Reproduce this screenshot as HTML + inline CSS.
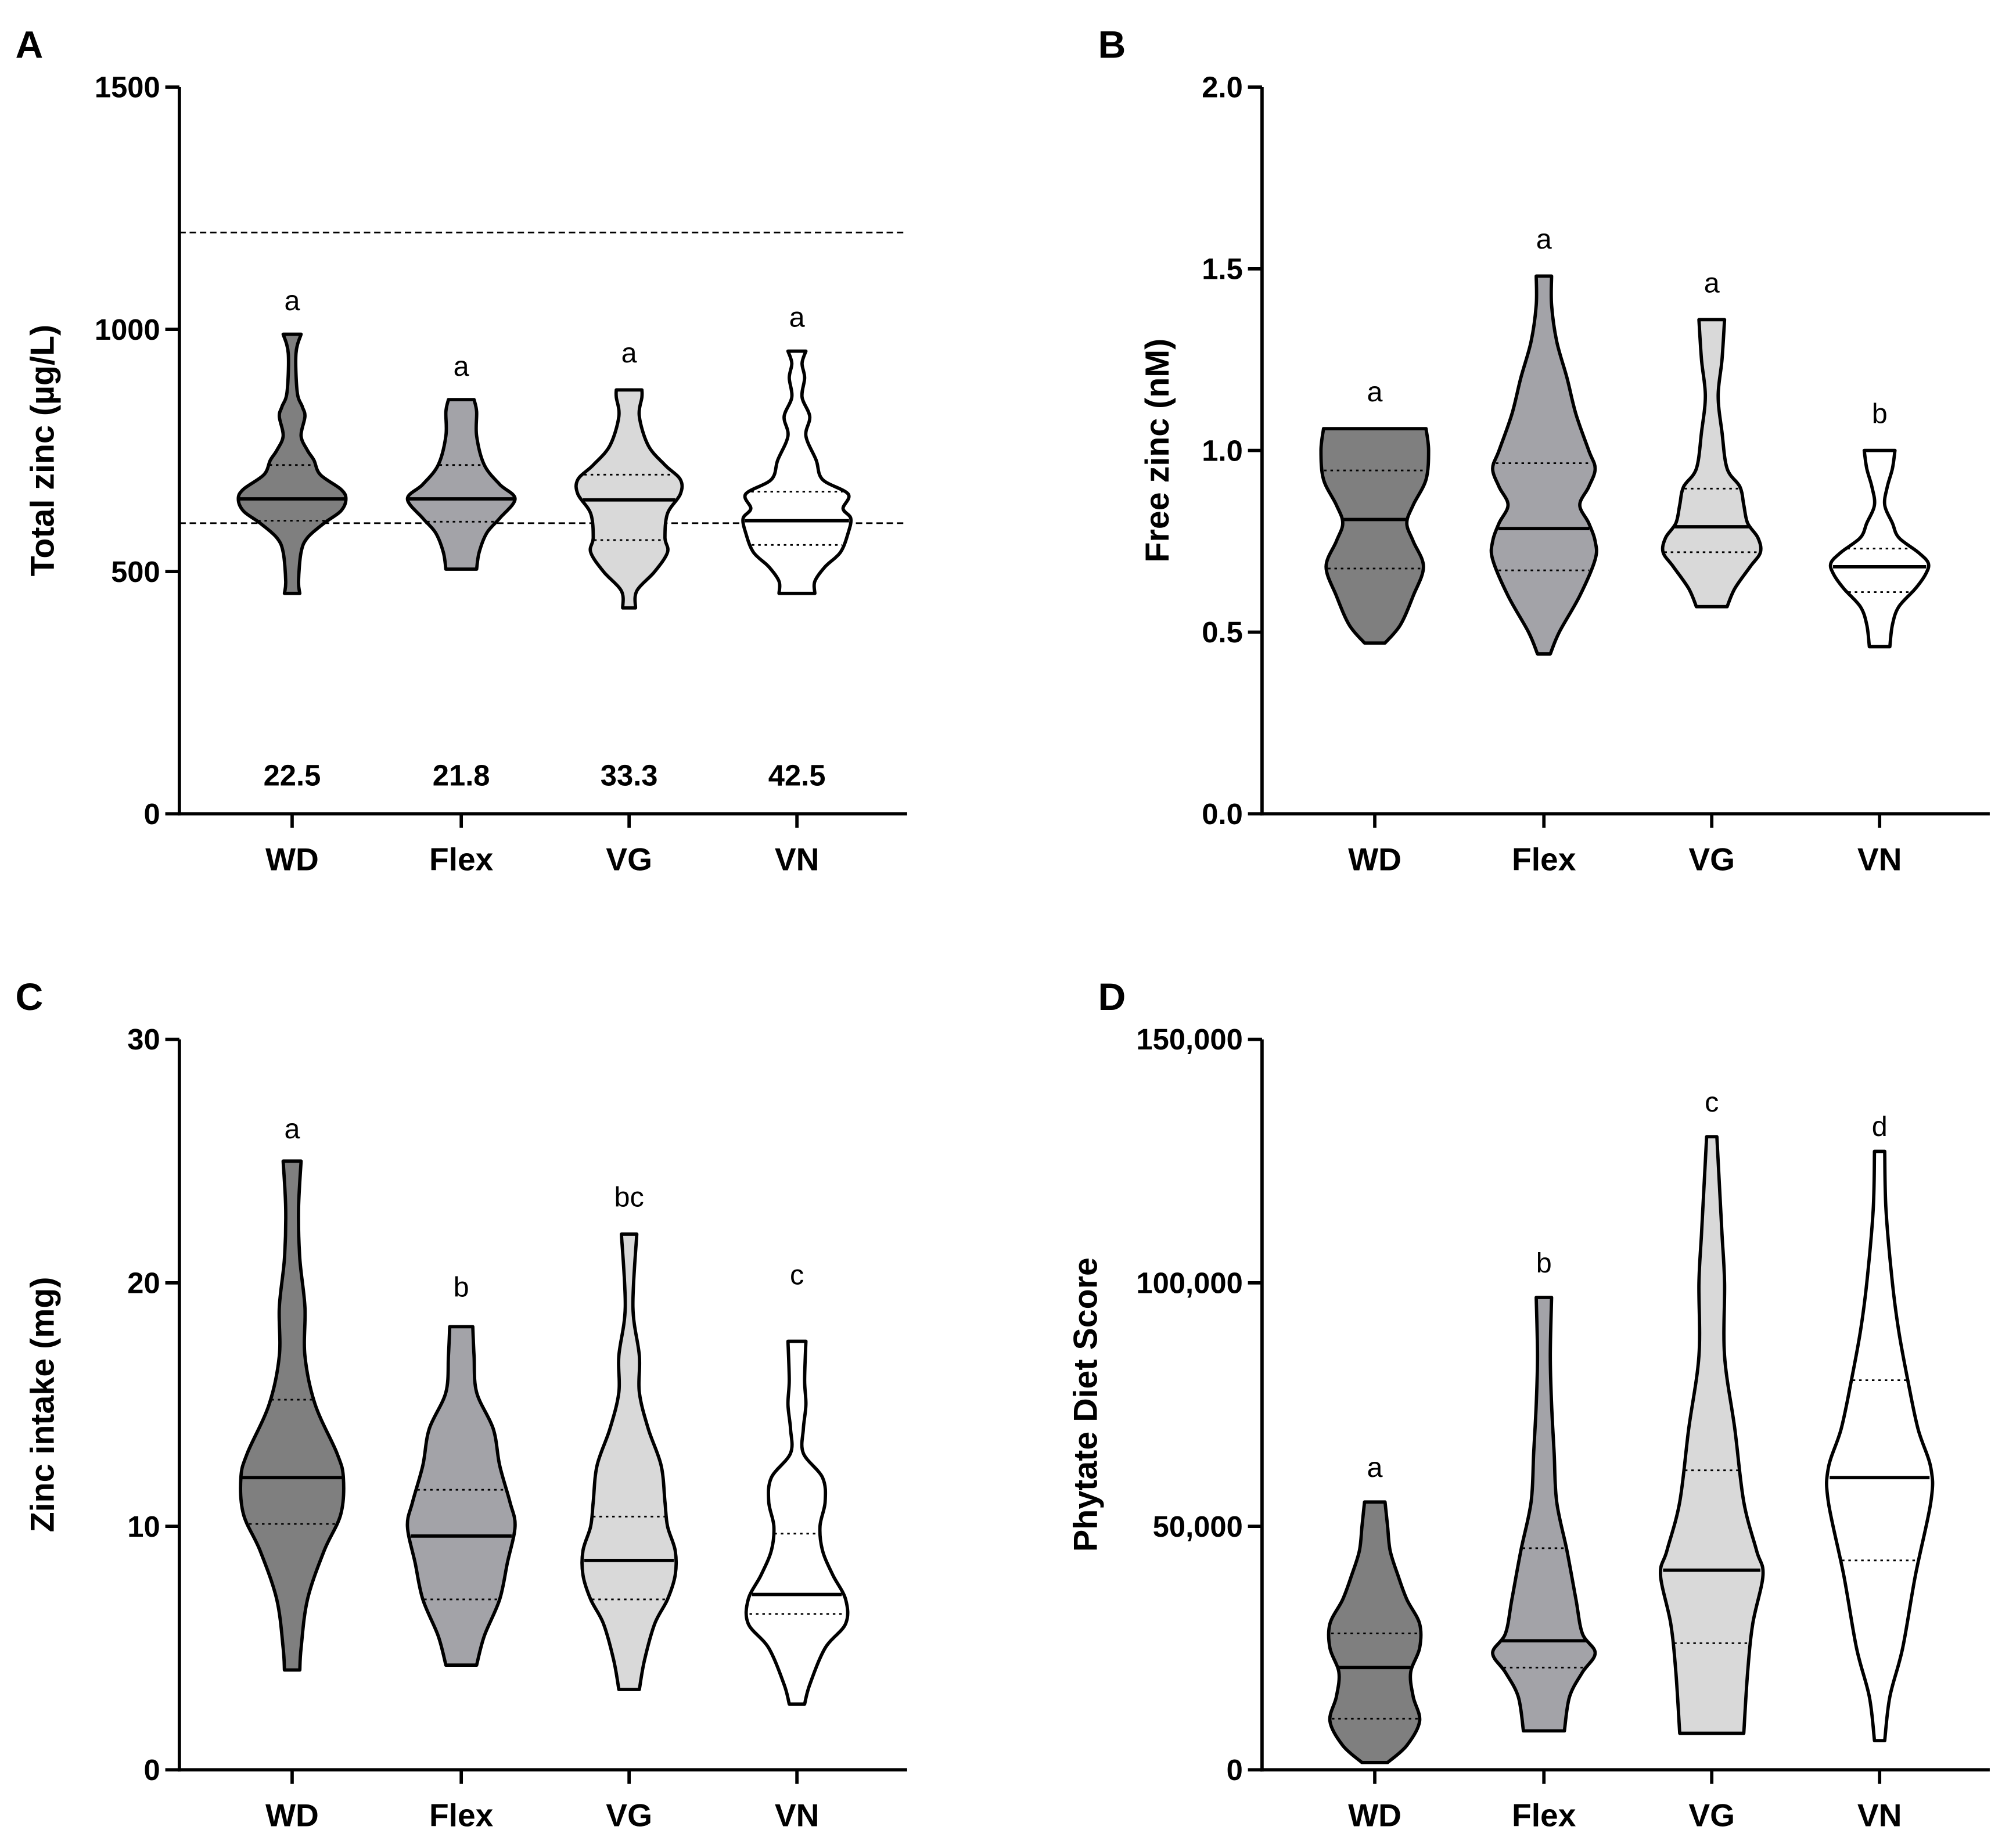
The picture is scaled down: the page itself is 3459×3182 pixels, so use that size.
<!DOCTYPE html>
<html><head><meta charset="utf-8"><style>
html,body{margin:0;padding:0;background:#fff}
svg{display:block}
text{font-family:"Liberation Sans",Arial,sans-serif}
</style></head><body>
<svg id="fig" width="3459" height="3182" viewBox="0 0 1568 1442" preserveAspectRatio="none" xmlns="http://www.w3.org/2000/svg"></svg>
<script>
const categories = ["WD","Flex","VG","VN"];
const fills = ["#7f7f7f","#a3a3a8","#d9d9d9","#ffffff"];
// Panel A: total zinc
const aProfiles = [
 [[455,6],[480,5],[540,7],[570,12],[600,25],[625,38],[650,42],[670,38],[700,22],[730,17],[750,12],[780,7],[820,10],[840,8],[870,4],[950,3],[990,7]],
 [[505,12],[540,14],[580,20],[610,30],[650,42],[680,30],[720,18],[780,12],[830,12],[855,10]],
 [[425,5],[460,6],[500,20],[540,30],[570,28],[620,30],[660,40],[690,40],[720,28],[760,15],[820,8],[860,10],[875,10]],
 [[455,14],[480,14],[510,22],[540,34],[580,40],[610,42],[630,36],[660,40],[690,20],[730,15],[780,7],[820,10],[860,4],[900,6],[930,4],[955,7]]
];
const aMedians = [650,650,648,605];
const aQ1 = [605,603,565,555];
const aQ3 = [720,720,700,665];
const aLetters = ["a","a","a","a"];
const aLetterPos = [1058,923,950,1024];
const aPercents = ["22.5","21.8","33.3","42.5"];
const aRefLines = [600,1200];
const aTicks = [0,500,1000,1500];
const aTickLabels = ["0","500","1000","1500"];
// Panel B: free zinc
const bProfiles = [
 [[0.47,8],[0.52,20],[0.6,30],[0.68,38],[0.75,30],[0.8,25],[0.85,30],[0.92,40],[1.0,42],[1.06,40]],
 [[0.44,5],[0.5,12],[0.6,28],[0.7,40],[0.75,40],[0.8,35],[0.85,28],[0.9,35],[0.95,40],[1.0,35],[1.1,25],[1.2,18],[1.3,10],[1.4,6],[1.48,6]],
 [[0.57,12],[0.62,18],[0.68,30],[0.72,38],[0.76,36],[0.8,28],[0.85,25],[0.9,22],[0.95,12],[1.05,8],[1.15,5],[1.25,8],[1.36,10]],
 [[0.46,8],[0.52,10],[0.57,15],[0.62,28],[0.66,36],[0.69,38],[0.72,30],[0.76,15],[0.8,10],[0.85,4],[0.9,6],[0.95,10],[1.0,12]]
];
const bMedians = [0.81,0.785,0.79,0.68];
const bQ1 = [0.675,0.67,0.72,0.61];
const bQ3 = [0.945,0.965,0.895,0.73];
const bLetters = ["a","a","a","b"];
const bLetterPos = [1.16,1.58,1.46,1.1];
const bTicks = [0,0.5,1,1.5,2];
const bTickLabels = ["0.0","0.5","1.0","1.5","2.0"];
// Panel C: zinc intake
const cProfiles = [
 [[4.1,6],[5,7],[7,12],[9,25],[10.5,38],[12,40],[13,35],[15,18],[17,10],[19,10],[21,6],[23,5],[25,7]],
 [[4.3,12],[5.5,18],[7,30],[8.5,36],[10,42],[11,38],[12.5,30],[14,25],[15.5,12],[17,10],[18.2,9]],
 [[3.3,8],[4.5,12],[6,20],[7,30],[8,36],[9,36],[10,30],[11,28],[12.5,25],[14,15],[15.5,8],[17,8],[19,3],[22,6]],
 [[2.7,6],[3.5,10],[5,22],[6,38],[7,38],[8,28],[9,20],[10,18],[11,22],[12,20],[13,5],[14,5],[15,7],[16,6],[17.6,7]]
];
const cMedians = [12,9.6,8.6,7.2];
const cQ1 = [10.1,7,7,6.4];
const cQ3 = [15.2,11.5,10.4,9.7];
const cLetters = ["a","b","bc","c"];
const cLetterPos = [26.3,19.8,23.5,20.3];
const cTicks = [0,10,20,30];
const cTickLabels = ["0","10","20","30"];
// Panel D: phytate diet score
const dProfiles = [
 [[1500,10],[5000,25],[10000,35],[15000,30],[20000,28],[25000,35],[30000,35],[35000,25],[40000,18],[45000,12],[50000,10],[55000,8]],
 [[8000,16],[15000,20],[20000,30],[24000,40],[28000,30],[35000,25],[45000,18],[55000,10],[65000,8],[75000,6],[85000,5],[97000,6]],
 [[7500,25],[20000,28],[30000,32],[40000,40],[45000,35],[55000,25],[70000,18],[85000,10],[100000,10],[110000,8],[120000,6],[130000,4]],
 [[6000,4],[15000,8],[25000,18],[40000,28],[55000,40],[62000,40],[70000,30],[80000,22],[90000,15],[100000,10],[115000,5],[127000,4]]
];
const dMedians = [21000,26500,41000,60000];
const dQ1 = [10500,21000,26000,43000];
const dQ3 = [28000,45500,61500,80000];
const dLetters = ["a","b","c","d"];
const dLetterPos = [62000,104000,137000,132000];
const dTicks = [0,50000,100000,150000];
const dTickLabels = ["0","50,000","100,000","150,000"];

const NS="http://www.w3.org/2000/svg";
const svg=document.getElementById('fig');
function mk(tag,attrs,parent,txt){const e=document.createElementNS(NS,tag);for(const k in attrs)e.setAttribute(k,attrs[k]);if(txt!==undefined)e.textContent=txt;(parent||svg).appendChild(e);return e;}
function interp(p,v){if(v<=p[0][0])return p[0][1];for(let i=1;i<p.length;i++){if(v<=p[i][0]){const t=(v-p[i-1][0])/(p[i][0]-p[i-1][0]);return p[i-1][1]+t*(p[i][1]-p[i-1][1]);}}return p[p.length-1][1];}
function cr(pts){let d='';for(let i=0;i<pts.length-1;i++){const p0=pts[Math.max(0,i-1)],p1=pts[i],p2=pts[i+1],p3=pts[Math.min(pts.length-1,i+2)];
 const c1=[p1[0]+(p2[0]-p0[0])/6,p1[1]+(p2[1]-p0[1])/6],c2=[p2[0]-(p3[0]-p1[0])/6,p2[1]-(p3[1]-p1[1])/6];
 d+=` C${c1[0]},${c1[1]} ${c2[0]},${c2[1]} ${p2[0]},${p2[1]}`;}return d;}

function panel(o){
 const g=mk('g',{});
 
 
 const y=v=>o.y0-(v-0)/o.max*(o.y0-o.y1);
 const xs=[o.ax+88,o.ax+220,o.ax+351,o.ax+482];
 const pl=mk('text',{x:o.ax-128,y:o.y1-23,'font-size':30,'font-weight':'bold'},g,o.letter);
 
 (o.ref||[]).forEach(v=>{const l=mk('line',{x1:o.ax,x2:o.ax+568,y1:y(v),y2:y(v),stroke:'#000','stroke-width':1.3,'stroke-dasharray':'5,3'},g);
  });
 o.prof.forEach((p,i)=>{
  const cx=xs[i];
  const right=p.map(q=>[cx+q[1],y(q[0])]), left=p.slice().reverse().map(q=>[cx-q[1],y(q[0])]);
  let d=`M${cx-p[0][1]},${y(p[0][0])} L${right[0][0]},${right[0][1]}`+cr(right)+` L${left[0][0]},${left[0][1]}`+cr(left)+'Z';
  const v=mk('path',{d:d,fill:fills[i],stroke:'#000','stroke-width':2.6,'stroke-linejoin':'round'},g);
  
  const hl=(val,dash,w)=>{const h=interp(p,val)-1;const l=mk('line',{x1:cx-h,x2:cx+h,y1:y(val),y2:y(val),stroke:'#000','stroke-width':w},g);if(dash)l.setAttribute('stroke-dasharray','2,3');return l;};
  const m=hl(o.med[i],false,2.6);
  const q1=hl(o.q1[i],true,1.3);
  const q3=hl(o.q3[i],true,1.3);
  const lt=mk('text',{x:cx,y:y(o.lpos[i])+7,'font-size':22,'text-anchor':'middle'},g,o.lets[i]);
  
  if(o.pct){const t=mk('text',{x:cx,y:613,'font-size':23,'font-weight':'bold','text-anchor':'middle'},g,o.pct[i]);
   }
  const xt=mk('line',{x1:cx,x2:cx,y1:o.y0,y2:o.y0+11,stroke:'#000','stroke-width':2.6},g);
  
  const xl=mk('text',{x:cx,y:o.y0+44,'font-size':25,'font-weight':'bold','text-anchor':'middle'},g,categories[i]);
  
 });
 const ya=mk('line',{x1:o.ax,x2:o.ax,y1:o.y1,y2:o.y0+1.3,stroke:'#000','stroke-width':2.6},g);
 
 const xa=mk('line',{x1:o.ax-1.3,x2:o.ax+568,y1:o.y0,y2:o.y0,stroke:'#000','stroke-width':2.6},g);
 
 o.ticks.forEach((t,i)=>{
  const tl=mk('line',{x1:o.ax-11,x2:o.ax,y1:y(t),y2:y(t),stroke:'#000','stroke-width':2.6},g);
  
  const tx=mk('text',{x:o.ax-15,y:y(t)+8,'font-size':23,'font-weight':'bold','text-anchor':'end'},g,o.tl[i]);
  
 });
 const cy=(o.y0+o.y1)/2;
 const at=mk('text',{x:o.titleX,y:cy,'font-size':26,'font-weight':'bold','text-anchor':'middle',transform:`rotate(-90 ${o.titleX} ${cy})`},g,o.title);
 
}
panel({name:'panel-a-total-zinc',letter:'A',ax:140,y0:635,y1:68,max:1500,prof:aProfiles,med:aMedians,q1:aQ1,q3:aQ3,lets:aLetters,lpos:aLetterPos,pct:aPercents,ref:aRefLines,ticks:aTicks,tl:aTickLabels,title:'Total zinc (µg/L)',titleX:42});
panel({name:'panel-b-free-zinc',letter:'B',ax:985,y0:635,y1:68,max:2,prof:bProfiles,med:bMedians,q1:bQ1,q3:bQ3,lets:bLetters,lpos:bLetterPos,ticks:bTicks,tl:bTickLabels,title:'Free zinc (nM)',titleX:912});
panel({name:'panel-c-zinc-intake',letter:'C',ax:140,y0:1381,y1:811,max:30,prof:cProfiles,med:cMedians,q1:cQ1,q3:cQ3,lets:cLetters,lpos:cLetterPos,ticks:cTicks,tl:cTickLabels,title:'Zinc intake (mg)',titleX:42});
panel({name:'panel-d-phytate-score',letter:'D',ax:985,y0:1381,y1:811,max:150000,prof:dProfiles,med:dMedians,q1:dQ1,q3:dQ3,lets:dLetters,lpos:dLetterPos,ticks:dTicks,tl:dTickLabels,title:'Phytate Diet Score',titleX:856});
</script>
</body></html>
